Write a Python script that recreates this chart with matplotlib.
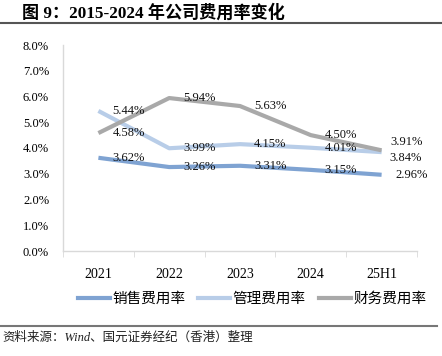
import matplotlib
matplotlib.use("Agg")
import matplotlib.pyplot as plt
from matplotlib.lines import Line2D
import numpy as np

# data
years = ["2021", "2022", "2023", "2024", "25H1"]
sales_rate = [3.62, 3.26, 3.31, 3.15, 2.96]
admin_rate = [5.44, 3.99, 4.15, 4.01, 3.84]
fin_rate = [4.58, 5.94, 5.63, 4.50, 3.91]
series_names = ["销售费用率", "管理费用率", "财务费用率"]
yticks = [0, 1, 2, 3, 4, 5, 6, 7, 8]

colors = ["#7FA3D2", "#B8CDE8", "#A9A9A9"]
num_font = ["Liberation Serif", "Noto Sans CJK SC"]

fig = plt.figure(figsize=(4.42, 3.56), dpi=100)
ax = fig.add_axes([63 / 442, 1 - 251 / 356, 354 / 442, 206 / 356])

x = np.arange(len(years))
all_series = [sales_rate, admin_rate, fin_rate]
for vals, c in zip(all_series, colors):
    ax.plot(x, vals, color=c, lw=3.0, solid_capstyle="butt", zorder=2)

# data labels (pixel offsets from the point)
offsets = {
    0: [(14, 0)] * 4 + [(14, 0)],
    1: [(14, 0)] * 4 + [(8, -6)],
    2: [(14, 0)] * 4 + [(9, 8)],
}
for k, vals in enumerate(all_series):
    for i, v in enumerate(vals):
        dx, dy = offsets[k][i]
        ax.annotate("%.2f%%" % v, (x[i], v), xytext=(dx, dy),
                    textcoords="offset pixels", ha="left", va="center",
                    fontsize=9, family=num_font, color="#111111", zorder=3)

ax.set_xlim(-0.5, len(years) - 0.5)
ax.set_ylim(0, 8)
ax.set_yticks(yticks)
ax.set_yticklabels(["%.1f%%" % t for t in yticks], family=num_font, fontsize=9)
ax.set_xticks(x)
ax.set_xticklabels(years, family=num_font, fontsize=10)
ax.set_xticks(np.arange(-0.5, len(years)), minor=True)
ax.tick_params(axis="x", which="major", length=0, pad=12)
ax.tick_params(axis="x", which="minor", length=4, color="#D9D9D9")
ax.tick_params(axis="y", length=0, pad=10)
for s in ["top", "right"]:
    ax.spines[s].set_visible(False)
for s in ["left", "bottom"]:
    ax.spines[s].set_color("#D9D9D9")
    ax.spines[s].set_linewidth(1.0)

handles = [Line2D([0], [0], color=c, lw=3.0) for c in colors]
fig.legend(handles, series_names, loc="center", bbox_to_anchor=(252 / 442, 1 - 299 / 356),
           ncol=3, frameon=False, handlelength=2.2, handletextpad=0.15,
           columnspacing=0.9, borderpad=0,
           prop={"family": "Noto Sans CJK SC", "size": 10.5})

# title and frame lines
fig.text(22 / 442, 1 - 13 / 356, "图 9：2015-2024 年公司费用率变化", fontsize=12.3,
         fontweight="bold", family=num_font, va="center", ha="left")
fig.add_artist(Line2D([0, 1], [1 - 23 / 356] * 2, color="#555555", lw=1.5))
fig.add_artist(Line2D([0, 437 / 442], [1 - 326 / 356] * 2, color="#777777", lw=1.5))
fig.text(2 / 442, 1 - 338 / 356, "资料来源：Wind、国元证券经纪（香港）整理", fontsize=9,
         style="italic", family=num_font, va="center", ha="left", color="#222222")

fig.savefig("out.png", dpi=100)
